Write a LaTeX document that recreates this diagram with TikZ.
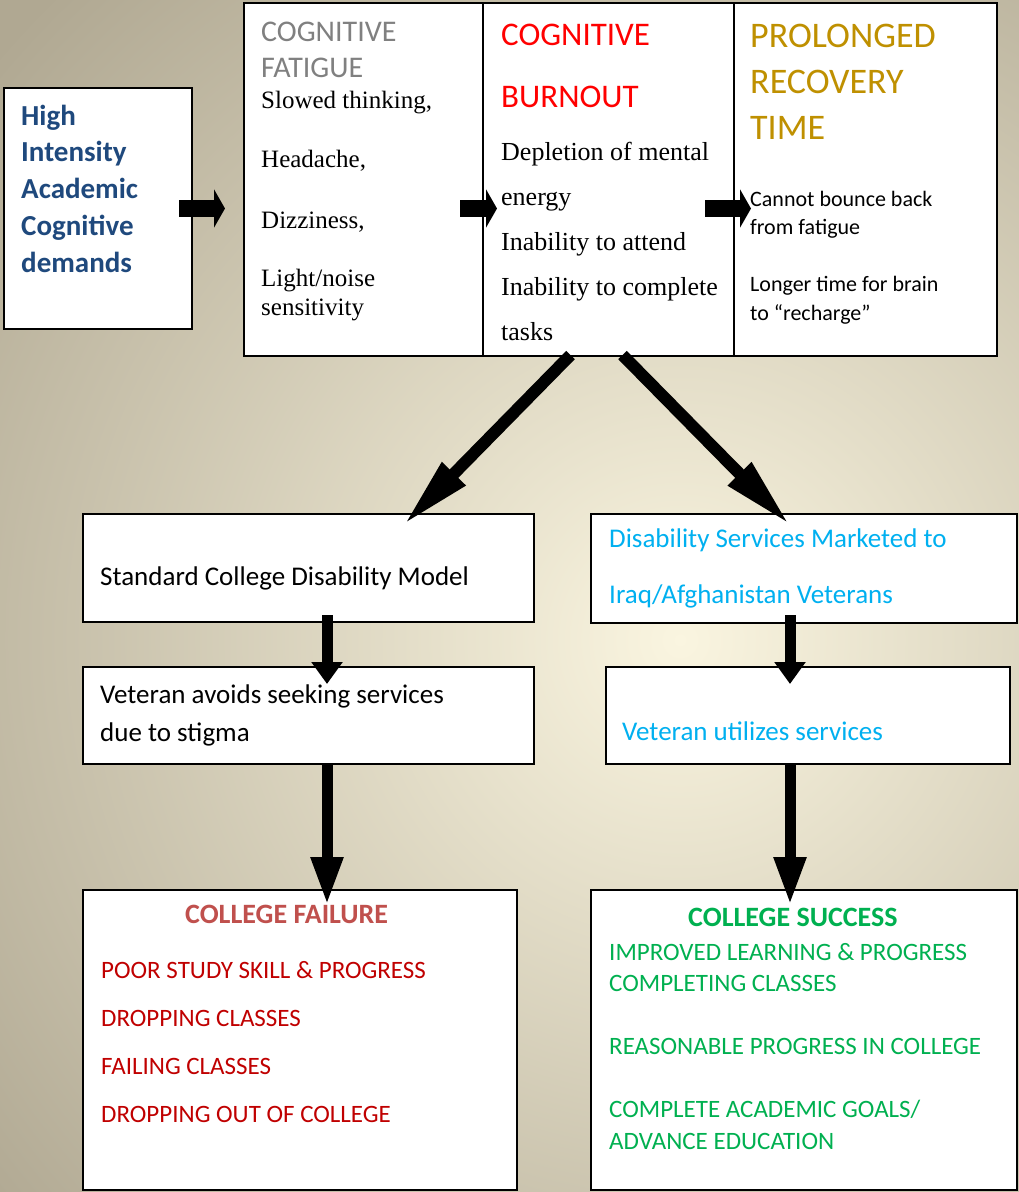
\documentclass[tikz,border=0pt]{standalone}
\usepackage{fontspec}
\setmainfont{Carlito}
\newfontfamily\timesfont{Liberation Serif}
\usetikzlibrary{arrows.meta,calc,positioning}

\definecolor{bglight}{RGB}{250,245,224}
\definecolor{bgdark}{RGB}{176,168,146}
\definecolor{demandblue}{RGB}{31,73,125}
\definecolor{fatiguegrey}{RGB}{128,128,128}
\definecolor{burnoutred}{RGB}{255,0,0}
\definecolor{recoverygold}{RGB}{191,144,0}
\definecolor{serviceblue}{RGB}{0,176,240}
\definecolor{failhead}{RGB}{192,80,77}
\definecolor{failred}{RGB}{192,0,0}
\definecolor{successgreen}{RGB}{0,176,80}

\tikzstyle{box} = [rectangle, draw=black, fill=white, line width=2pt, inner sep=0pt, outer sep=0pt]
\tikzstyle{txt} = [anchor=base west, inner sep=0pt, align=left]
\tikzstyle{fatarrow} = [line width=17pt, -{Triangle[length=11pt,width=38pt]}]
\tikzstyle{diagarrow} = [line width=12pt, -{Triangle[length=72pt,width=30pt]}]
\tikzstyle{downarrow} = [line width=11pt, -{Triangle[length=22pt,width=30pt]}]
\tikzstyle{longarrow} = [line width=11pt, -{Triangle[length=48pt,width=30pt]}]

\begin{document}
\begin{tikzpicture}[x=1pt, y=-1pt]
% background
\begin{scope}
\clip (0,0) rectangle (1019,1192);
\shade[inner color=bglight, outer color=bgdark] (-220,-260) rectangle (1580,1540);
\end{scope}
\useasboundingbox (0,0) rectangle (1019,1192);

% top row
\node (demands) [box, anchor=north west, minimum width=188pt, minimum height=241pt] at (4,88) {};
\node (fatigue) [box, anchor=north west, minimum width=239pt, minimum height=353pt] at (244,3) {};
\node (burnout) [box, right=0pt of fatigue, minimum width=251pt, minimum height=353pt] {};
\node (recovery) [box, right=0pt of burnout, minimum width=263pt, minimum height=353pt] {};

% text nodes sit on the baseline of their last line
\node (demands-txt) [txt, text=demandblue, font=\fontsize{29}{36.7}\selectfont\bfseries] at (21,272) {High\\Intensity\\Academic\\Cognitive\\demands};
\node (fatigue-head) [txt, text=fatiguegrey, font=\fontsize{30}{36}\selectfont] at (261,77) {COGNITIVE\\FATIGUE};
\node (fatigue-txt) [txt, font=\timesfont\fontsize{25}{29}\selectfont] at (261,315) {Slowed thinking,\\[30pt]Headache,\\[32pt]Dizziness,\\[29pt]Light/noise\\sensitivity};
\node (burnout-head) [txt, text=burnoutred, font=\fontsize{33}{62}\selectfont] at (501,107) {COGNITIVE\\BURNOUT};
\node (burnout-txt) [txt, font=\timesfont\fontsize{26}{45}\selectfont] at (501,340) {Depletion of mental\\energy\\Inability to attend\\Inability to complete\\tasks};
\node (recovery-head) [txt, text=recoverygold, font=\fontsize{36}{46}\selectfont] at (750,139) {PROLONGED\\RECOVERY\\TIME};
\node (recovery-txt) [txt, font=\fontsize{22}{28.5}\selectfont] at (750,320) {Cannot bounce back\\from fatigue\\[28.5pt]Longer time for brain\\to “recharge”};

% middle rows
\node (stdmodel) [box, anchor=north west, minimum width=451pt, minimum height=108pt] at (83,514) {};
\node (marketed) [box, anchor=north west, minimum width=426pt, minimum height=109pt] at (591,514) {};
\node (avoids) [box, below=45pt of stdmodel, minimum width=451pt, minimum height=97pt] {};
\node (utilizes) [box, anchor=north west, minimum width=404pt, minimum height=97pt] at (606,667) {};

\node (stdmodel-txt) [txt, font=\fontsize{27}{36}\selectfont] at (100,585) {Standard College Disability Model};
\node (marketed-txt) [txt, text=serviceblue, font=\fontsize{27}{56}\selectfont] at (609,603) {Disability Services Marketed to\\Iraq/Afghanistan Veterans};
\node (avoids-txt) [txt, font=\fontsize{27}{38}\selectfont] at (100,741) {Veteran avoids seeking services\\due to stigma};
\node (utilizes-txt) [txt, text=serviceblue, font=\fontsize{27}{36}\selectfont] at (622,740) {Veteran utilizes services};

% bottom row
\node (failure) [box, anchor=north west, minimum width=434pt, minimum height=300pt] at (83,890) {};
\node (success) [box, anchor=north west, minimum width=426pt, minimum height=300pt] at (591,890) {};

\node (failure-head) [txt, text=failhead, font=\fontsize{28}{34}\selectfont\bfseries] at (185,923) {COLLEGE FAILURE};
\node (failure-txt) [txt, text=failred, font=\fontsize{25}{47.7}\selectfont] at (101,1122) {POOR STUDY SKILL \& PROGRESS\\DROPPING CLASSES\\FAILING CLASSES\\DROPPING OUT OF COLLEGE};
\node (success-head) [txt, text=successgreen, font=\fontsize{28}{34}\selectfont\bfseries] at (688,926) {COLLEGE SUCCESS};
\node (success-txt) [txt, text=successgreen, font=\fontsize{25}{31.5}\selectfont] at (609,1149) {IMPROVED LEARNING \& PROGRESS\\COMPLETING CLASSES\\[31.5pt]REASONABLE PROGRESS IN COLLEGE\\[31.5pt]COMPLETE ACADEMIC GOALS/\\ADVANCE EDUCATION};

% arrows
\draw [fatarrow] ($(demands.east)+(-13,0)$) -- ($(fatigue.west |- demands.east)+(-19,0)$);
\draw [fatarrow] ($(burnout.west |- demands.east)+(-23,0)$) -- ($(burnout.west |- demands.east)+(14,0)$);
\draw [fatarrow] ($(recovery.west |- demands.east)+(-29,0)$) -- ($(recovery.west |- demands.east)+(17,0)$);
\draw [diagarrow] ($(burnout.south)+(-38,-1)$) -- ($(stdmodel.north)+(95,11)$);
\draw [diagarrow] ($(burnout.south)+(14,-1)$) -- ($(marketed.north)+(-14,11)$);
\draw [downarrow] ($(stdmodel.south)+(18.5,-7)$) -- ($(avoids.north)+(18.5,17)$);
\draw [longarrow] ($(avoids.south)+(18.5,0)$) -- ($(failure.north)+(27,15)$);
\draw [downarrow] ($(marketed.south)+(-14,-8)$) -- ($(utilizes.north)+(-18,17)$);
\draw [longarrow] ($(utilizes.south)+(-18,0)$) -- ($(success.north)+(-14,15)$);
\end{tikzpicture}
\end{document}
